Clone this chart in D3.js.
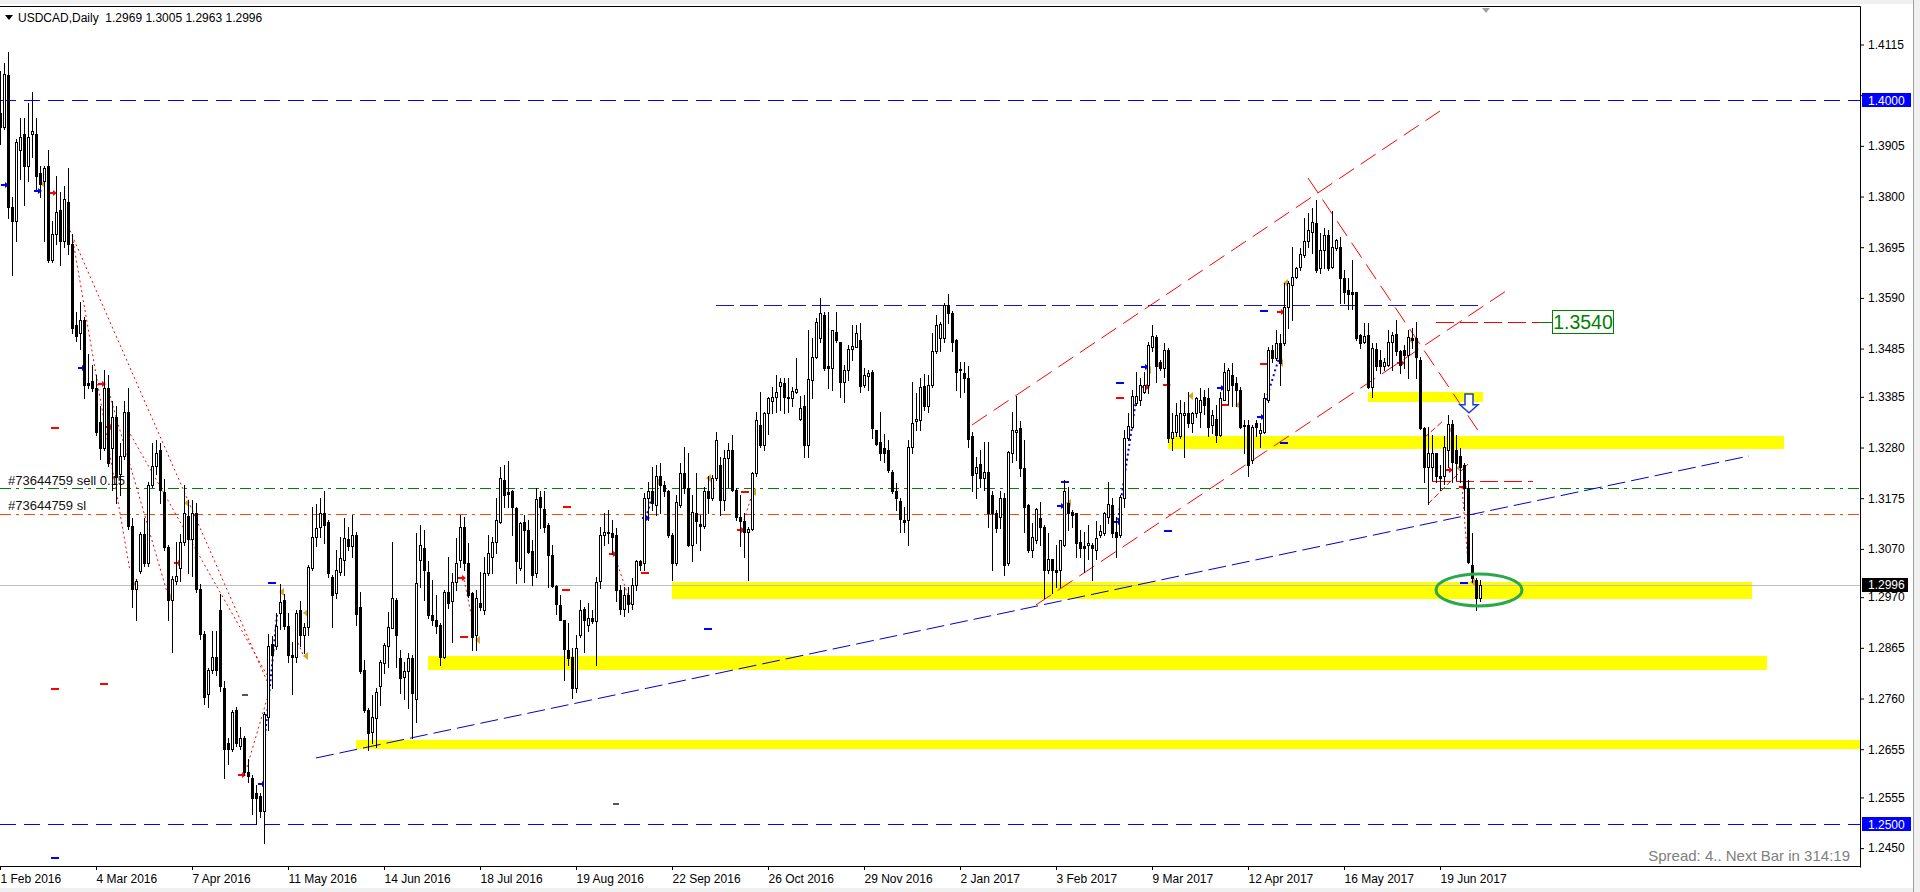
<!DOCTYPE html>
<html><head><meta charset="utf-8">
<script src="https://cdn.jsdelivr.net/npm/d3@7"></script>
<style>
html,body{margin:0;padding:0;background:#fff;overflow:hidden;}
svg{display:block;}
text{font-family:"Liberation Sans",Arial,sans-serif;}
</style></head><body>
<svg id="c" width="1920" height="892"></svg>
<script>
// ---------- tick labels ----------
const tickBars = [0,24,48,72,96,120,144,168,192,216,240,264,288,312,336,360];
const tickLabels = ["1 Feb 2016","4 Mar 2016","7 Apr 2016","11 May 2016","14 Jun 2016","18 Jul 2016","19 Aug 2016","22 Sep 2016","26 Oct 2016","29 Nov 2016","2 Jan 2017","3 Feb 2017","9 Mar 2017","12 Apr 2017","16 May 2017","19 Jun 2017"];
const priceTicks = [1.4115,1.4010,1.3905,1.3800,1.3695,1.3590,1.3485,1.3385,1.3280,1.3175,1.3070,1.2970,1.2865,1.2760,1.2655,1.2555,1.2450];

// ---------- daily OHLC, bar 0 = 1 Feb 2016 ----------
const opens = [
1.3973,1.3945,1.4051,1.3778,1.3750,1.3897,1.3929,1.3864,1.3929,1.3929,
1.3848,1.3832,1.3864,1.3669,1.3723,1.3772,1.3707,1.3788,1.3702,1.3533,
1.3517,1.3544,1.3414,1.3418,1.3404,1.3333,1.3279,1.3404,1.3279,1.3344,
1.3225,1.3263,1.3353,1.3117,1.2986,1.3025,1.3100,1.3041,1.3203,1.3241,
1.3274,1.3187,1.3073,1.2965,1.3003,1.3030,1.3084,1.3138,1.3090,1.3144,
1.2986,1.2894,1.2770,1.2819,1.2846,1.2943,1.2781,1.2667,1.2656,1.2737,
1.2661,1.2678,1.2607,1.2596,1.2564,1.2558,1.2526,1.2721,1.2873,1.2868,
1.2938,1.2965,1.2911,1.2851,1.2846,1.2943,1.2892,1.2909,1.3030,1.3095,
1.3116,1.3144,1.3126,1.3012,1.2978,1.3023,1.3047,1.3090,1.3075,1.3099,
1.2950,1.2819,1.2736,1.2691,1.2720,1.2786,1.2833,1.2868,1.2906,1.2964,
1.2843,1.2805,1.2816,1.2843,1.2760,1.3047,1.3071,1.3023,1.2933,1.2923,
1.2912,1.2847,1.2981,1.2961,1.3002,1.3047,1.3116,1.3040,1.2978,1.2892,
1.2957,1.2943,1.3019,1.3054,1.3085,1.3126,1.3213,1.3187,1.3189,1.3154,
1.3030,1.3126,1.3109,1.3065,1.3019,1.3178,1.3152,1.3120,1.3057,1.2994,
1.2953,1.2922,1.2861,1.2845,1.2781,1.2892,1.2945,1.2912,1.2926,1.2920,
1.3003,1.3099,1.3106,1.3102,1.3099,1.2985,1.2945,1.2975,1.2955,1.2995,
1.3045,1.3040,1.3175,1.3189,1.3161,1.3220,1.3203,1.3189,1.3099,1.3040,
1.3161,1.3227,1.3196,1.3078,1.3144,1.3122,1.3118,1.3189,1.3175,1.3216,
1.3244,1.3171,1.3258,1.3275,1.3192,1.3136,1.3127,1.3106,1.3111,1.3227,
1.3327,1.3285,1.3351,1.3377,1.3385,1.3408,1.3413,1.3385,1.3383,1.3394,
1.3340,1.3365,1.3285,1.3420,1.3468,1.3506,1.3555,1.3449,1.3444,1.3520,
1.3499,1.3416,1.3441,1.3485,1.3489,1.3503,1.3410,1.3428,1.3437,1.3316,
1.3292,1.3278,1.3275,1.3230,1.3190,1.3170,1.3130,1.3130,1.3282,1.3334,
1.3337,1.3408,1.3366,1.3410,1.3479,1.3506,1.3506,1.3575,1.3558,1.3503,
1.3442,1.3434,1.3425,1.3303,1.3227,1.3245,1.3216,1.3230,1.3182,1.3144,
1.3137,1.3175,1.3040,1.3268,1.3313,1.3320,1.3237,1.3161,1.3068,1.3089,
1.3134,1.3116,1.3026,1.3050,1.3026,1.3026,1.3078,1.3166,1.3147,1.3144,
1.3085,1.3075,1.3078,1.3078,1.3068,1.3099,1.3102,1.3137,1.3161,1.3106,
1.3099,1.3175,1.3299,1.3323,1.3372,1.3379,1.3396,1.3410,1.3489,1.3509,
1.3458,1.3444,1.3482,1.3299,1.3313,1.3303,1.3347,1.3351,1.3330,1.3351,
1.3354,1.3385,1.3382,1.3327,1.3340,1.3306,1.3379,1.3399,1.3430,1.3413,
1.3399,1.3327,1.3327,1.3254,1.3330,1.3310,1.3313,1.3379,1.3482,1.3465,
1.3496,1.3496,1.3572,1.3617,1.3634,1.3655,1.3679,1.3707,1.3727,1.3745,
1.3651,1.3689,1.3720,1.3655,1.3693,1.3696,1.3631,1.3606,1.3603,1.3603,
1.3513,1.3499,1.3513,1.3406,1.3484,1.3461,1.3448,1.3451,1.3499,1.3516,
1.3479,1.3482,1.3472,1.3506,1.3506,1.3461,1.3320,1.3240,1.3240,1.3268,
1.3220,1.3220,1.3275,1.3329,1.3275,1.3262,1.3244,1.3196,1.3037,1.3006,
1.2969];
const highs = [
1.4060,1.4076,1.4100,1.3799,1.3919,1.3962,1.3962,1.3994,1.4016,1.3962,
1.3864,1.3864,1.3897,1.3750,1.3843,1.3810,1.3821,1.3859,1.3723,1.3561,
1.3582,1.3550,1.3474,1.3452,1.3431,1.3366,1.3441,1.3431,1.3377,1.3366,
1.3290,1.3377,1.3404,1.3133,1.3008,1.3106,1.3133,1.3208,1.3290,1.3295,
1.3290,1.3214,1.3079,1.3014,1.3084,1.3100,1.3203,1.3171,1.3171,1.3165,
1.2997,1.2900,1.2824,1.2900,1.2900,1.2976,1.2797,1.2678,1.2737,1.2743,
1.2700,1.2683,1.2634,1.2602,1.2580,1.2564,1.2732,1.2894,1.2889,1.2938,
1.2997,1.2976,1.2938,1.2878,1.2943,1.2961,1.2916,1.3037,1.3157,1.3162,
1.3175,1.3189,1.3130,1.3016,1.3068,1.3095,1.3134,1.3116,1.3140,1.3106,
1.2981,1.2840,1.2740,1.2767,1.2781,1.2840,1.2874,1.2940,1.3085,1.2968,
1.2861,1.2836,1.2854,1.2850,1.3102,1.3120,1.3109,1.3044,1.3006,1.2974,
1.2916,1.2985,1.3054,1.3019,1.3092,1.3140,1.3137,1.3082,1.2981,1.2985,
1.3023,1.3054,1.3099,1.3095,1.3175,1.3240,1.3243,1.3253,1.3192,1.3157,
1.3126,1.3140,1.3130,1.3088,1.3196,1.3189,1.3189,1.3123,1.3078,1.2995,
1.2974,1.2923,1.2917,1.2864,1.2892,1.2964,1.2950,1.2957,1.2943,1.3012,
1.3116,1.3144,1.3150,1.3130,1.3113,1.2995,1.2990,1.2990,1.3010,1.3047,
1.3047,1.3185,1.3209,1.3240,1.3244,1.3247,1.3210,1.3192,1.3102,1.3182,
1.3247,1.3282,1.3268,1.3182,1.3227,1.3140,1.3199,1.3220,1.3223,1.3313,
1.3261,1.3275,1.3289,1.3306,1.3196,1.3182,1.3144,1.3116,1.3230,1.3354,
1.3396,1.3354,1.3385,1.3406,1.3430,1.3423,1.3423,1.3423,1.3406,1.3465,
1.3387,1.3389,1.3523,1.3506,1.3548,1.3589,1.3561,1.3561,1.3524,1.3561,
1.3499,1.3451,1.3492,1.3534,1.3534,1.3537,1.3444,1.3441,1.3441,1.3317,
1.3354,1.3309,1.3296,1.3233,1.3206,1.3175,1.3157,1.3296,1.3416,1.3392,
1.3423,1.3432,1.3430,1.3518,1.3555,1.3541,1.3579,1.3599,1.3562,1.3504,
1.3458,1.3458,1.3448,1.3313,1.3261,1.3275,1.3292,1.3292,1.3189,1.3151,
1.3189,1.3185,1.3272,1.3354,1.3387,1.3334,1.3296,1.3164,1.3123,1.3154,
1.3168,1.3120,1.3102,1.3050,1.3078,1.3089,1.3213,1.3199,1.3151,1.3144,
1.3109,1.3106,1.3120,1.3082,1.3127,1.3120,1.3147,1.3209,1.3175,1.3137,
1.3182,1.3316,1.3351,1.3399,1.3437,1.3423,1.3437,1.3499,1.3534,1.3513,
1.3461,1.3496,1.3486,1.3351,1.3372,1.3379,1.3375,1.3396,1.3354,1.3385,
1.3403,1.3400,1.3403,1.3358,1.3368,1.3396,1.3455,1.3444,1.3455,1.3427,
1.3406,1.3337,1.3337,1.3327,1.3337,1.3330,1.3392,1.3489,1.3492,1.3523,
1.3516,1.3620,1.3624,1.3696,1.3655,1.3693,1.3755,1.3765,1.3776,1.3793,
1.3724,1.3734,1.3731,1.3769,1.3713,1.3717,1.3648,1.3631,1.3669,1.3603,
1.3516,1.3537,1.3537,1.3496,1.3496,1.3482,1.3465,1.3524,1.3520,1.3544,
1.3482,1.3492,1.3524,1.3527,1.3541,1.3468,1.3323,1.3323,1.3306,1.3268,
1.3244,1.3303,1.3347,1.3337,1.3306,1.3278,1.3247,1.3213,1.3102,1.3009,
1.3005];
const lows = [
1.3908,1.3940,1.3756,1.3637,1.3707,1.3837,1.3783,1.3832,1.3881,1.3815,
1.3799,1.3707,1.3664,1.3664,1.3702,1.3658,1.3696,1.3680,1.3517,1.3501,
1.3485,1.3382,1.3404,1.3398,1.3306,1.3257,1.3274,1.3241,1.3192,1.3165,
1.3181,1.3257,1.3111,1.2949,1.2922,1.3019,1.3035,1.3035,1.3198,1.3225,
1.3165,1.3068,1.2922,1.2857,1.2997,1.3003,1.3079,1.3019,1.3014,1.2981,
1.2884,1.2748,1.2743,1.2813,1.2808,1.2775,1.2596,1.2624,1.2651,1.2661,
1.2656,1.2602,1.2586,1.2521,1.2499,1.2515,1.2461,1.2694,1.2781,1.2862,
1.2905,1.2905,1.2835,1.2770,1.2835,1.2868,1.2854,1.2892,1.3026,1.3075,
1.3095,1.3082,1.3012,1.2909,1.2968,1.3016,1.3016,1.3068,1.3054,1.2912,
1.2812,1.2733,1.2653,1.2667,1.2660,1.2747,1.2812,1.2826,1.2906,1.2826,
1.2771,1.2760,1.2740,1.2678,1.2712,1.2992,1.2964,1.2926,1.2912,1.2895,
1.2829,1.2843,1.2947,1.2878,1.2985,1.3033,1.3026,1.2971,1.2861,1.2861,
1.2943,1.2936,1.3016,1.3019,1.3061,1.3123,1.3157,1.3157,1.3099,1.2999,
1.3026,1.3002,1.3061,1.2995,1.3012,1.3113,1.3106,1.2990,1.2990,1.2936,
1.2922,1.2798,1.2829,1.2762,1.2774,1.2888,1.2857,1.2899,1.2916,1.2829,
1.2988,1.3078,1.3082,1.3060,1.2962,1.2935,1.2930,1.2940,1.2945,1.2985,
1.3027,1.3027,1.3130,1.3150,1.3140,1.3144,1.3180,1.3095,1.3006,1.3037,
1.3157,1.3185,1.3075,1.3044,1.3082,1.3068,1.3113,1.3144,1.3171,1.3213,
1.3140,1.3151,1.3199,1.3189,1.3130,1.3075,1.3054,1.3006,1.3109,1.3220,
1.3282,1.3275,1.3309,1.3351,1.3354,1.3358,1.3351,1.3354,1.3365,1.3392,
1.3337,1.3261,1.3261,1.3382,1.3465,1.3499,1.3441,1.3403,1.3399,1.3499,
1.3385,1.3375,1.3420,1.3461,1.3489,1.3396,1.3406,1.3399,1.3299,1.3285,
1.3254,1.3251,1.3230,1.3185,1.3151,1.3106,1.3106,1.3078,1.3268,1.3316,
1.3316,1.3358,1.3354,1.3406,1.3475,1.3479,1.3499,1.3537,1.3479,1.3399,
1.3385,1.3396,1.3282,1.3189,1.3175,1.3199,1.3192,1.3116,1.3026,1.3106,
1.3113,1.3016,1.3037,1.3251,1.3254,1.3220,1.3106,1.3064,1.3054,1.3082,
1.3078,1.2968,1.3020,1.2978,1.2992,1.2992,1.3075,1.3109,1.3116,1.3054,
1.3054,1.3023,1.3050,1.3006,1.3050,1.3095,1.3099,1.3123,1.3095,1.3054,
1.3095,1.3157,1.3296,1.3320,1.3368,1.3368,1.3392,1.3392,1.3479,1.3416,
1.3441,1.3427,1.3292,1.3275,1.3303,1.3299,1.3261,1.3323,1.3313,1.3344,
1.3323,1.3350,1.3303,1.3310,1.3292,1.3303,1.3379,1.3370,1.3365,1.3365,
1.3320,1.3268,1.3220,1.3247,1.3303,1.3282,1.3310,1.3375,1.3458,1.3461,
1.3410,1.3492,1.3527,1.3544,1.3631,1.3648,1.3675,1.3696,1.3682,1.3644,
1.3641,1.3651,1.3648,1.3651,1.3689,1.3579,1.3579,1.3568,1.3568,1.3503,
1.3486,1.3496,1.3403,1.3385,1.3441,1.3434,1.3441,1.3448,1.3441,1.3472,
1.3434,1.3444,1.3423,1.3486,1.3423,1.3318,1.3209,1.3164,1.3213,1.3209,
1.3192,1.3205,1.3240,1.3209,1.3213,1.3209,1.3151,1.3040,1.3002,1.2943,
1.2963];
const closes = [
1.3945,1.4054,1.3778,1.3750,1.3913,1.3924,1.3864,1.3924,1.3935,1.3843,
1.3826,1.3859,1.3669,1.3723,1.3767,1.3707,1.3794,1.3702,1.3528,1.3512,
1.3544,1.3409,1.3409,1.3404,1.3312,1.3279,1.3404,1.3247,1.3344,1.3219,
1.3263,1.3353,1.3117,1.2986,1.3003,1.3100,1.3041,1.3203,1.3241,1.3268,
1.3192,1.3073,1.2965,1.3008,1.3014,1.3084,1.3144,1.3090,1.3144,1.2986,
1.2894,1.2764,1.2819,1.2846,1.2819,1.2786,1.2656,1.2656,1.2732,1.2667,
1.2678,1.2607,1.2599,1.2553,1.2553,1.2526,1.2727,1.2868,1.2851,1.2911,
1.2959,1.2911,1.2851,1.2846,1.2938,1.2892,1.2909,1.3033,1.3095,1.3113,
1.3144,1.3120,1.3019,1.2974,1.3026,1.3051,1.3092,1.3075,1.3099,1.2936,
1.2816,1.2736,1.2689,1.2722,1.2774,1.2836,1.2871,1.2909,1.2968,1.2892,
1.2802,1.2816,1.2843,1.2771,1.2999,1.3078,1.3026,1.2933,1.2923,1.2910,
1.2847,1.2981,1.2957,1.3002,1.3040,1.3116,1.3040,1.2974,1.2888,1.2968,
1.2950,1.3019,1.3061,1.3085,1.3130,1.3216,1.3182,1.3184,1.3157,1.3044,
1.3123,1.3109,1.3064,1.3016,1.3173,1.3157,1.3116,1.3057,1.2994,1.2956,
1.2923,1.2862,1.2843,1.2781,1.2864,1.2943,1.2922,1.2926,1.2920,1.3002,
1.3099,1.3106,1.3102,1.3095,1.2985,1.2945,1.2975,1.2955,1.2995,1.3044,
1.3037,1.3175,1.3189,1.3165,1.3220,1.3203,1.3190,1.3099,1.3040,1.3168,
1.3227,1.3196,1.3078,1.3147,1.3127,1.3118,1.3189,1.3175,1.3216,1.3296,
1.3171,1.3258,1.3275,1.3192,1.3136,1.3127,1.3106,1.3111,1.3228,1.3337,
1.3285,1.3351,1.3382,1.3385,1.3396,1.3416,1.3385,1.3383,1.3397,1.3401,
1.3361,1.3285,1.3421,1.3468,1.3541,1.3558,1.3444,1.3444,1.3523,1.3503,
1.3416,1.3441,1.3484,1.3490,1.3517,1.3408,1.3430,1.3435,1.3320,1.3287,
1.3269,1.3268,1.3233,1.3189,1.3176,1.3132,1.3126,1.3282,1.3330,1.3339,
1.3406,1.3365,1.3410,1.3479,1.3534,1.3536,1.3575,1.3558,1.3499,1.3437,
1.3440,1.3423,1.3297,1.3223,1.3240,1.3216,1.3230,1.3144,1.3144,1.3113,
1.3175,1.3037,1.3271,1.3316,1.3316,1.3237,1.3157,1.3068,1.3095,1.3152,
1.3116,1.3026,1.3050,1.3026,1.3023,1.3088,1.3189,1.3144,1.3140,1.3082,
1.3071,1.3071,1.3082,1.3071,1.3092,1.3108,1.3144,1.3162,1.3102,1.3095,
1.3178,1.3299,1.3325,1.3387,1.3387,1.3410,1.3410,1.3492,1.3511,1.3448,
1.3444,1.3482,1.3299,1.3313,1.3347,1.3351,1.3351,1.3330,1.3351,1.3382,
1.3379,1.3368,1.3323,1.3347,1.3306,1.3382,1.3437,1.3441,1.3410,1.3399,
1.3323,1.3324,1.3244,1.3323,1.3323,1.3316,1.3382,1.3482,1.3465,1.3496,
1.3455,1.3572,1.3620,1.3634,1.3651,1.3680,1.3707,1.3731,1.3748,1.3648,
1.3689,1.3720,1.3651,1.3696,1.3710,1.3631,1.3603,1.3599,1.3599,1.3506,
1.3496,1.3511,1.3406,1.3486,1.3448,1.3448,1.3458,1.3499,1.3513,1.3479,
1.3451,1.3472,1.3510,1.3503,1.3468,1.3320,1.3240,1.3268,1.3268,1.3220,
1.3216,1.3282,1.3329,1.3250,1.3247,1.3240,1.3196,1.3042,1.3009,1.2968,
1.2996];

// ---------- drawn objects (bar index, price) ----------
const zones = [[168,438,1.3002,1.2966],[107,441.75,1.2848,1.2820],[89,465,1.2674,1.2655],[292,446,1.3304,1.3276],[342,370.75,1.3396,1.3375]];
const roundLevels = [1.4000, 1.2500];
const bidPrice = 1.2996;
const sellPrice = 1.3196;
const stopPrice = 1.3142;
const topLevel = [179, 369.5, 1.3575];
const targetLevel = [359, 388, 1.3540];
const minorLevel = [358, 383.25, 1.3211];
const channel = [[243,1.33267,360,1.39772],[259,1.29538,376.5,1.36043]];
const downLine = [327,1.38384,369.75,1.33122];
const flagLines = [[357,1.31630,367,1.32459],[356,1.32998,360.75,1.33350]];
const blueTrend = [79,1.26368,437.25,1.32625];
const redTrades = [[17,1.37390,66.75,1.27963],[18.25,1.37079,32.5,1.30242],[27.5,1.33868,41.75,1.29807],[32,1.33163,66.75,1.28088],[61.75,1.26182,66.75,1.27591],[74.5,1.28751,76,1.28461],[116,1.30056,118.25,1.29165],[154,1.30470,158.25,1.29434],[186,1.31299,187.75,1.31755],[365.5,1.31983,367,1.30408]];
const blueTrades = [[66.25,1.26824,69.25,1.29331],[279.5,1.31299,284,1.33785],[316.5,1.33785,319.75,1.34655],[161.5,1.31340,163.5,1.31920]];
const redTicks = [[13.75,1.33226],[13.75,1.27819],[26,1.27922],[141.75,1.31589],[141.5,1.29870],[116,1.28897],[161.25,1.30222],[186.25,1.31900],[280,1.33847],[316,1.34551],[306.25,1.33702]];
const blueTicks = [[13.75,1.24317],[177,1.29064],[280,1.34158],[292,1.31092],[316,1.35650],[321,1.32915],[266.25,1.32107],[366,1.30015],[68,1.30015]];
const greyTicks = [[154,1.25436],[61.25,1.27694]];
const redArrows = [[13.25,1.38073],[25.5,1.34116],[27.5,1.33226],[44.5,1.30408],[60.5,1.26016],[115.5,1.30097],[153.25,1.30595],[185.25,1.31092],[286.5,1.34054],[291.75,1.34096],[320.25,1.35608],[350.25,1.34551],[362.25,1.32335],[365.75,1.31983]];
const blueArrows = [[1.25,1.38239],[9.5,1.38115],[20.5,1.34448],[65.5,1.25830],[161.5,1.31340],[265.25,1.31589],[279.5,1.31257],[286.25,1.34469],[305.25,1.34034],[315.25,1.33433]];
const goldMarks = [[10.75,1.38260],[46.75,1.31651],[33.75,1.29973],[42.5,1.29704],[70.5,1.29807],[76.5,1.29372],[76.5,1.28481],[119.5,1.28813],[164.5,1.32086],[177.25,1.32169],[188.5,1.31879],[267.25,1.31651],[287.25,1.34407],[289.75,1.34510],[297.75,1.33868],[321.5,1.36209],[320.25,1.34551],[309.5,1.33681],[352.75,1.35028],[362.75,1.33163],[364.75,1.32376],[368.25,1.30015]];
const focusEllipse = [369.75, 1.29849, 10.75, 0.00331];
const sellArrow = [367.25, 1.3391, 1.3352];
const header = "USDCAD,Daily  1.2969 1.3005 1.2963 1.2996";
const orderTexts = ["#73644759 sell 0.15", "#73644759 sl"];
const statusText = "Spread: 4.. Next Bar in 314:19";

// ---------- scales ----------
const W = 1920, H = 892, plotR = 1860, plotT = 7, plotB = 867;
const x = d3.scaleLinear().domain([0, 465]).range([0, plotR]);
const y = d3.scaleLinear().domain([1.25, 1.40]).range([824, 100]);
const X = i => Math.round(x(i));
const Y = p => Math.round(y(p));

const svg = d3.select("#c");
svg.append("rect").attr("width", W).attr("height", H).attr("fill", "#fff");
// window chrome
svg.append("rect").attr("x",0).attr("y",0).attr("width",W).attr("height",4).attr("fill","#f0f0f0");
svg.append("rect").attr("x",0).attr("y",888).attr("width",W).attr("height",4).attr("fill","#f0f0f0");
svg.append("rect").attr("x",1913).attr("y",0).attr("width",7).attr("height",H).attr("fill","#f0f0f0");
svg.append("line").attr("x1",1913.5).attr("x2",1913.5).attr("y1",0).attr("y2",H).attr("stroke","#a0a0a0");

svg.append("defs").append("clipPath").attr("id","clip").append("rect")
  .attr("x",0).attr("y",plotT).attr("width",plotR).attr("height",plotB-plotT);
const g = svg.append("g").attr("clip-path","url(#clip)").attr("shape-rendering","crispEdges");

// zones
g.selectAll("rect.zone").data(zones).join("rect").attr("class","zone")
  .attr("x", d => X(d[0])).attr("width", d => X(d[1]) - X(d[0]))
  .attr("y", d => Y(d[2])).attr("height", d => Y(d[3]) - Y(d[2]))
  .attr("fill", "#ffff00");

function hline(i1, i2, p, color, dash, w) {
  const yy = Y(p) + 0.5;
  g.append("line").attr("x1", x(i1)).attr("x2", x(i2)).attr("y1", yy).attr("y2", yy)
    .attr("stroke", color).attr("stroke-width", w || 1).attr("stroke-dasharray", dash || null);
}
function tline(d, color, dash, w) {
  g.append("line").attr("x1", x(d[0])).attr("y1", y(d[1])).attr("x2", x(d[2])).attr("y2", y(d[3]))
    .attr("stroke", color).attr("stroke-width", w || 1).attr("stroke-dasharray", dash || null)
    .attr("shape-rendering","auto");
}

roundLevels.forEach(p => hline(0, 465, p, "#0000ff", "16,8"));
hline(0, 465, sellPrice, "#008000", "11,5,3,5");
hline(0, 465, stopPrice, "#ff4500", "11,5,3,5");
hline(0, 465, bidPrice, "#c0c0c0");
hline(topLevel[0], topLevel[1], topLevel[2], "#1a1aa8", "18,6");
hline(targetLevel[0], targetLevel[1]-3, targetLevel[2], "#ff0000", "18,6");
hline(targetLevel[1]-3, targetLevel[1], targetLevel[2], "#008000");
hline(minorLevel[0], minorLevel[1], minorLevel[2], "#ff0000", "18,6");

channel.forEach(d => tline(d, "#ff0000", "18,8"));
tline(downLine, "#ff0000", "18,8");
flagLines.forEach(d => tline(d, "#ff0000", "6,3"));
tline(blueTrend, "#0000cd", "18,6");
redTrades.forEach(d => tline(d, "#ff0000", "2,3"));
blueTrades.forEach(d => tline(d, "#0000ff", "2,3", 2));

// order texts (behind candles)
g.append("text").attr("x", 8).attr("y", Y(sellPrice) - 3).text(orderTexts[0])
  .attr("font-size", 13).attr("fill", "#111");
g.append("text").attr("x", 8).attr("y", Y(stopPrice) - 4).text(orderTexts[1])
  .attr("font-size", 13).attr("fill", "#111");

// small trade marks
function ticks(arr, color, half) {
  g.selectAll(null).data(arr).join("rect")
    .attr("x", d => X(d[0]) - half).attr("width", half * 2)
    .attr("y", d => Y(d[1])).attr("height", 2).attr("fill", color);
}
ticks(redTicks, "#ff0000", 4);
ticks(blueTicks, "#0000ff", 4);
ticks(greyTicks, "#555", 3);
function arrows(arr, color) {
  g.selectAll(null).data(arr).join("path")
    .attr("d", d => { const cx = X(d[0]), cy = Y(d[1]);
      return `M${cx-4},${cy-1}h4v-2l4,3l-4,3v-2h-4z`; })
    .attr("fill", color).attr("shape-rendering","auto");
}
arrows(redArrows, "#ff0000");
arrows(blueArrows, "#0000ff");
g.selectAll(null).data(goldMarks).join("path")
  .attr("d", d => { const cx = X(d[0]), cy = Y(d[1]); return `M${cx-3},${cy}l5,-4v8z`; })
  .attr("fill", "#daa520").attr("shape-rendering","auto");

// target label box
const tb = g.append("g");
const bx = X(targetLevel[1]), by = Y(targetLevel[2]);
tb.append("rect").attr("x", bx + 0.5).attr("y", by - 11.5).attr("width", 61).attr("height", 23)
  .attr("fill", "#fff").attr("stroke", "#008000");
tb.append("text").attr("x", bx + 31).attr("y", by + 7).attr("text-anchor", "middle")
  .attr("font-size", 19.5).attr("fill", "#008000").text(targetLevel[2].toFixed(4));

// candles
const idx = d3.range(opens.length);
const cg = g.append("g");
cg.selectAll("rect.wick").data(idx).join("rect").attr("class","wick")
  .attr("x", i => X(i)).attr("width", 1)
  .attr("y", i => Y(highs[i])).attr("height", i => Math.max(1, Y(lows[i]) - Y(highs[i]) + 1))
  .attr("fill", "#000");
cg.selectAll("rect.body").data(idx).join("rect").attr("class","body")
  .attr("x", i => X(i) - 1).attr("width", 3)
  .attr("y", i => Y(Math.max(opens[i], closes[i])))
  .attr("height", i => Math.max(1, Y(Math.min(opens[i], closes[i])) - Y(Math.max(opens[i], closes[i])) + 1))
  .attr("fill", "#000");
cg.selectAll("rect.hollow").data(idx.filter(i => closes[i] > opens[i] && Y(opens[i]) - Y(closes[i]) >= 2)).join("rect").attr("class","hollow")
  .attr("x", i => X(i)).attr("width", 1)
  .attr("y", i => Y(closes[i]) + 1)
  .attr("height", i => Y(opens[i]) - Y(closes[i]) - 1)
  .attr("fill", "#fff");

// ellipse + arrow on top
g.append("ellipse").attr("cx", x(focusEllipse[0])).attr("cy", y(focusEllipse[1]))
  .attr("rx", x(focusEllipse[2]) - x(0)).attr("ry", y(1.3) - y(1.3 + focusEllipse[3]))
  .attr("fill", "none").attr("stroke", "#2aa84a").attr("stroke-width", 3).attr("shape-rendering","auto");
{
  const ax = x(sellArrow[0]), at = y(sellArrow[1]), ab = y(sellArrow[2]);
  const mid = at + (ab - at) * 0.58;
  g.append("path").attr("d", `M${ax-4},${at}H${ax+4}V${mid}H${ax+9}L${ax},${ab}L${ax-9},${mid}H${ax-4}Z`)
    .attr("fill", "#fff").attr("stroke", "#1a3fd0").attr("stroke-width", 1.5).attr("shape-rendering","auto");
}

// frame
svg.append("line").attr("x1",0).attr("x2",plotR+0.5).attr("y1",plotT-0.5).attr("y2",plotT-0.5).attr("stroke","#000");
svg.append("line").attr("x1",plotR+0.5).attr("x2",plotR+0.5).attr("y1",plotT-0.5).attr("y2",plotB+0.5).attr("stroke","#000");
svg.append("line").attr("x1",0).attr("x2",plotR+0.5).attr("y1",plotB-0.5).attr("y2",plotB-0.5).attr("stroke","#000");

// price tags shown on the axis cover the tick labels beneath them
const tags = [[roundLevels[0], "#0000ff", 49], [roundLevels[1], "#0000ff", 49], [bidPrice, "#000", 46]];
const hiddenByTag = p => tags.some(t => Math.abs(y(t[0]) - y(p)) < 9 && p !== 1.2970);

// axes
const gy = svg.append("g").attr("transform", `translate(${plotR},0)`)
  .call(d3.axisRight(y).tickValues(priceTicks).tickFormat(d => hiddenByTag(d) ? "" : d3.format(".4f")(d)).tickSize(4).tickPadding(4));
gy.select(".domain").remove();
gy.selectAll("text").attr("font-family","Liberation Sans").attr("font-size",12).attr("fill","#000");
gy.selectAll("line").attr("stroke","#000");

const gx = svg.append("g").attr("transform", `translate(0,${plotB})`)
  .call(d3.axisBottom(x).tickValues(tickBars).tickFormat((d, k) => tickLabels[k]).tickSize(3));
gx.select(".domain").remove();
gx.selectAll("text").attr("text-anchor","start").attr("x",0).attr("y",16).attr("dy",null)
  .attr("font-family","Liberation Sans").attr("font-size",12).attr("fill","#000");
gx.selectAll("line").attr("stroke","#000");

// price labels on axis
tags.forEach(t => {
  const yy = y(t[0]);
  svg.append("rect").attr("x", plotR + 2).attr("y", Math.round(yy) - 7).attr("width", t[2]).attr("height", 14).attr("fill", t[1]);
  svg.append("text").attr("x", plotR + 8).attr("y", yy + 4.5).attr("font-size", 12).attr("fill", "#fff").text(t[0].toFixed(4));
});

// header & status
svg.append("path").attr("d", "M5,15H13L9,20Z").attr("fill", "#000");
svg.append("text").attr("x", 18).attr("y", 22).attr("font-size", 12).attr("fill", "#000")
  .style("white-space","pre").text(header);
svg.append("path").attr("d", `M${x(371.5)-4},8H${x(371.5)+4}L${x(371.5)},13Z`).attr("fill", "#a0a0a0");
svg.append("text").attr("x", 1850).attr("y", 861).attr("text-anchor","end")
  .attr("font-family","Liberation Mono, DejaVu Sans Mono, monospace").attr("font-size", 15)
  .attr("fill", "#808080").style("white-space","pre").text(statusText);
</script>
</body></html>
